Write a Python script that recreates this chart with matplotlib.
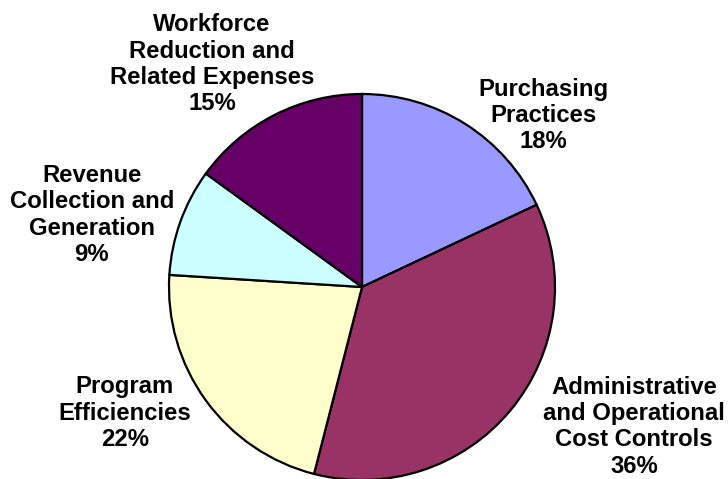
import matplotlib
matplotlib.use("Agg")
import matplotlib.pyplot as plt

categories = [
    "Purchasing\nPractices",
    "Administrative\nand Operational\nCost Controls",
    "Program\nEfficiencies",
    "Revenue\nCollection and\nGeneration",
    "Workforce\nReduction and\nRelated Expenses",
]
shares = [18, 36, 22, 9, 15]
colors = ["#9999FF", "#993366", "#FFFFCC", "#CCFFFF", "#660066"]

# label anchor points (centre of text block), in axes data units
label_pos = [
    (0.94, 0.89),
    (1.41, -0.725),
    (-1.228, -0.653),
    (-1.40, 0.373),
    (-0.777, 1.155),
]

W, H = 728, 479
cx, cy, r = 362, 287, 193

fig = plt.figure(figsize=(W / 100, H / 100), dpi=100)
ax = fig.add_axes([0, 0, 1, 1])
ax.set_aspect("equal")
ax.axis("off")

ax.pie(
    shares,
    colors=colors,
    startangle=90,
    counterclock=False,
    radius=1.0,
    wedgeprops=dict(edgecolor="black", linewidth=1.6),
)
ax.set_xlim(-cx / r, (W - cx) / r)
ax.set_ylim((cy - H) / r, cy / r)

for name, val, (x, y) in zip(categories, shares, label_pos):
    ax.text(x, y, f"{name}\n{val}%", ha="center", va="center",
            fontsize=17.2, fontweight="bold", family="Liberation Sans",
            linespacing=1.17)

fig.savefig("out.png", dpi=100)
